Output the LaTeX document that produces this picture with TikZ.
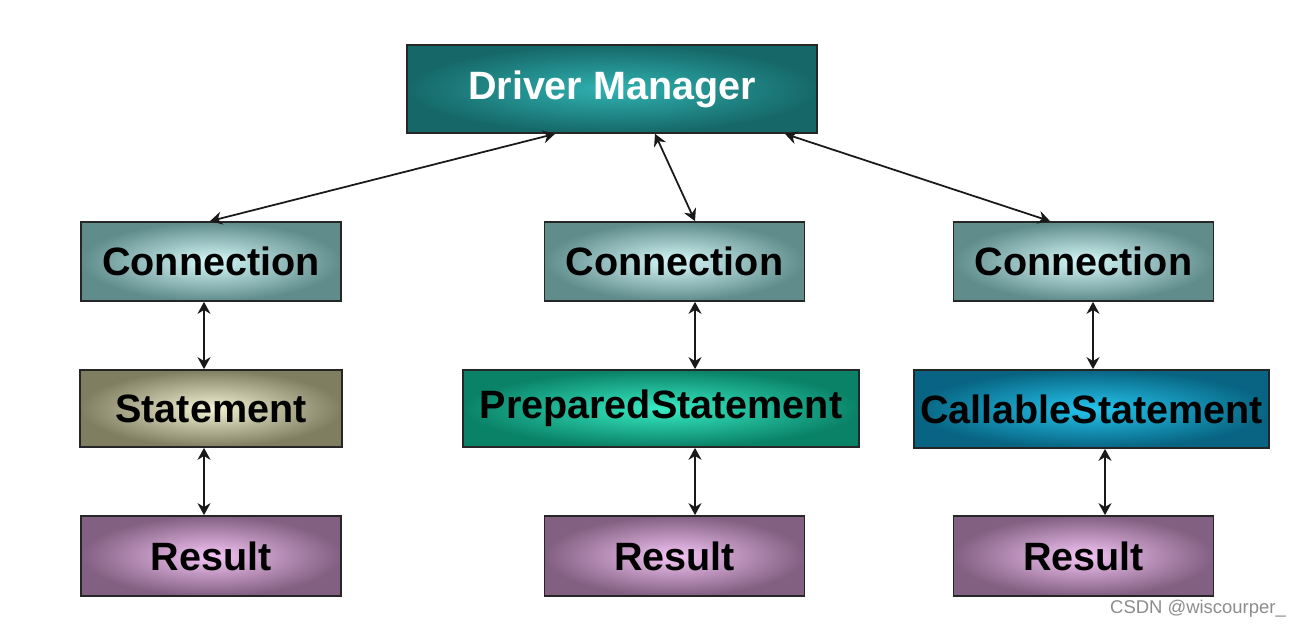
\documentclass[tikz,border=0pt]{standalone}
\usepackage{fontspec}
\setmainfont{Liberation Sans}
\usetikzlibrary{arrows.meta,positioning}
\definecolor{mgrdark}{RGB}{22,104,104}
\definecolor{mgrlight}{RGB}{48,178,178}
\definecolor{conndark}{RGB}{96,140,140}
\definecolor{connlight}{RGB}{214,248,248}
\definecolor{stmtdark}{RGB}{128,126,96}
\definecolor{stmtlight}{RGB}{242,242,212}
\definecolor{prepdark}{RGB}{10,130,104}
\definecolor{preplight}{RGB}{56,236,196}
\definecolor{calldark}{RGB}{8,100,130}
\definecolor{calllight}{RGB}{36,196,236}
\definecolor{resdark}{RGB}{130,96,130}
\definecolor{reslight}{RGB}{244,196,244}
\tikzset{
  base/.style   ={rectangle, draw=black!85, line width=1pt, align=center,
                  font=\fontsize{22.5}{26}\selectfont\bfseries, inner sep=0pt},
  mgrbox/.style ={base, inner color=mgrlight, outer color=mgrdark, text=white,
                  minimum width=8.2cm, minimum height=1.76cm},
  connbox/.style={base, inner color=connlight, outer color=conndark,
                  minimum width=5.2cm, minimum height=1.58cm},
  stmtbox/.style={base, inner color=stmtlight, outer color=stmtdark,
                  minimum width=5.24cm, minimum height=1.54cm},
  prepbox/.style={base, inner color=preplight, outer color=prepdark,
                  minimum width=7.92cm, minimum height=1.54cm},
  callbox/.style={base, inner color=calllight, outer color=calldark,
                  minimum width=7.1cm, minimum height=1.56cm},
  resbox/.style ={base, inner color=reslight, outer color=resdark,
                  minimum width=5.2cm, minimum height=1.6cm},
  link/.style   ={{Stealth[length=2.4mm,width=2.6mm]}-{Stealth[length=2.4mm,width=2.6mm]},
                  line width=1pt, draw=black!90},
  wmark/.style  ={font=\fontsize{10.5}{12}\selectfont, text=black!45}
}
\begin{document}
\begin{tikzpicture}[x=0.02cm, y=-0.02cm]
\useasboundingbox (0,0) rectangle (1304,624);
% ---- top ----
\node[mgrbox] (mgr) at (612,89) {Driver Manager};

% ---- connections ----
\node[connbox] (connl) at (211,261.5) {Connection};
\node[connbox] (connm) at (674.5,261.5) {Connection};
\node[connbox] (connr) at (1083.5,261.5) {Connection};

% ---- statements ----
\node[stmtbox] (stmt) at (211,408.5) {Statement};
\node[prepbox] (prep) at (661,408.5) {PreparedStatement};
\node[callbox] (call) at (1091.5,409) {CallableStatement};

% ---- results ----
\node[resbox] (resl) at (211,556) {Result};
\node[resbox] (resm) at (674.5,556) {Result};
\node[resbox] (resr) at (1083.5,556) {Result};

\node[wmark, anchor=north east] (csdn) at (1292,594) {CSDN @wiscourper\_};

% ---- edges ----
\draw[link] ([xshift=-1.14cm]mgr.south) -- ([xshift=-0.02cm]connl.north);
\draw[link] ([xshift=0.86cm]mgr.south) -- ([xshift=0.41cm]connm.north);
\draw[link] ([xshift=3.46cm]mgr.south) -- ([xshift=-0.67cm]connr.north);
\draw[link] ([xshift=-0.14cm]connl.south) -- ([xshift=-0.14cm]stmt.north);
\draw[link] ([xshift=-0.14cm]stmt.south) -- ([xshift=-0.14cm]resl.north);
\draw[link] ([xshift=0.41cm]connm.south) -- ([xshift=0.68cm]prep.north);
\draw[link] ([xshift=0.68cm]prep.south) -- ([xshift=0.41cm]resm.north);
\draw[link] ([xshift=0.19cm]connr.south) -- ([xshift=0.03cm]call.north);
\draw[link] ([xshift=0.27cm]call.south) -- ([xshift=0.43cm]resr.north);
\end{tikzpicture}
\end{document}
